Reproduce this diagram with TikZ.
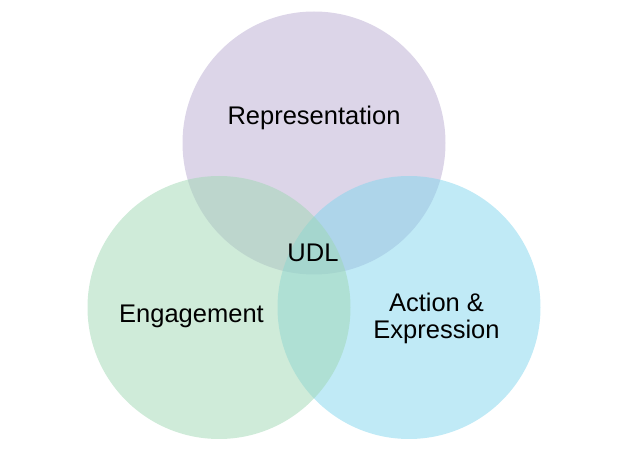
\documentclass[tikz,border=0pt]{standalone}
\usepackage{fontspec}
\setmainfont{Liberation Sans}
\usetikzlibrary{positioning}
\definecolor{repcol}{RGB}{185,171,209}
\definecolor{engcol}{RGB}{159,215,179}
\definecolor{actcol}{RGB}{129,213,237}

\begin{document}
\begin{tikzpicture}[
x=1pt, y=-1pt,
   set/.style = {circle, fill=#1, fill opacity=0.5, draw=none,
                 minimum size=263pt, inner sep=0pt, outer sep=0pt},
   txt/.style = {font=\fontsize{25.5}{27}\selectfont,
                 align=center, inner sep=0pt, text=black}
                        ]
\useasboundingbox (0,0) rectangle (633,457);
    % circles (purple first, green on top)
\node (rep) [set=repcol] at (314,143) {};
\node (act) [set=actcol] at (409,307.5) {};
\node (eng) [set=engcol] at (219,307.5) {};
    % labels
\node (repl) [txt,anchor=base] at (314,125)   {Representation};
\node (udl)  [txt,anchor=base] at (313,262)   {UDL};
\node (engl) [txt,anchor=base] at (191.5,323) {Engagement};
\node (actl) [txt]             at (436.5,318) {Action \&\\Expression};
\end{tikzpicture}
\end{document}
